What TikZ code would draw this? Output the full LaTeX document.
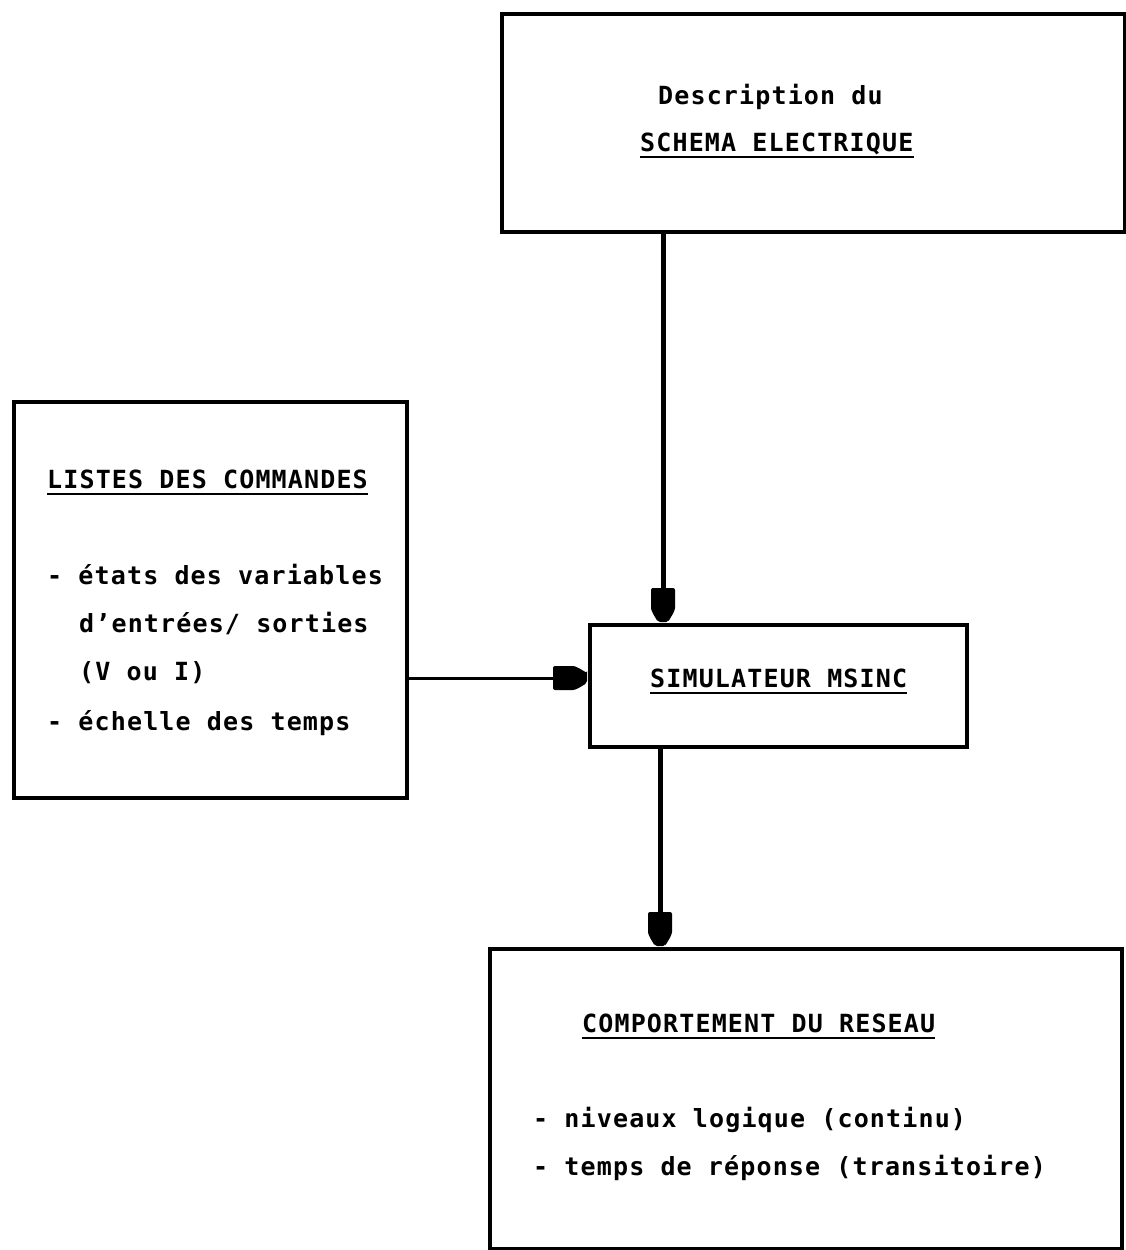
\documentclass[tikz,border=0pt]{standalone}
\usepackage{fontspec}
\newfontfamily\dotfont[LetterSpace=4.6]{DejaVu Sans Mono Bold}
\usetikzlibrary{arrows.meta}
\begin{document}
\begin{tikzpicture}[x=1pt,y=-1pt,
  boxst/.style={draw,line width=3.5pt},
  txt/.style={anchor=base west,inner sep=0pt,font=\dotfont\fontsize{25}{30}\selectfont},
  uln/.style={line width=2.5pt},
  arr/.style={line width=5pt},
  bullet/.pic={\fill[rounded corners=2pt] (0,-5) -- (0,5) .. controls (-5,8) and (-11,12) .. (-16,12) -- (-34,12) -- (-34,-12) -- (-16,-12) .. controls (-11,-12) and (-5,-8) .. (0,-5) -- cycle;}]
\useasboundingbox (0,0) rectangle (1125,1250);
% boxes
\node[boxst,minimum width=623pt,minimum height=218pt,anchor=north west,inner sep=0pt] (top) at (500,12) {};
\node[boxst,minimum width=393pt,minimum height=396pt,anchor=north west,inner sep=0pt] (left) at (12,400) {};
\node[boxst,minimum width=377pt,minimum height=122pt,anchor=north west,inner sep=0pt] (sim) at (588,623) {};
\node[boxst,minimum width=632pt,minimum height=300pt,anchor=north west,inner sep=0pt] (bot) at (488,947) {};
% texts top
\node[txt] (t1) at (658,104) {Description du};
\node[txt] (t2) at (640,151) {SCHEMA ELECTRIQUE};
\draw[uln] ([yshift=-6pt]t2.base west) -- ([yshift=-6pt]t2.base east);
% texts left
\node[txt] (l1) at (47,488) {LISTES DES COMMANDES};
\draw[uln] ([yshift=-6pt]l1.base west) -- ([yshift=-6pt]l1.base east);
\node[txt] (l2) at (47,584) {- états des variables};
\node[txt] (l3) at (79,632) {d’entrées/ sorties};
\node[txt] (l4) at (79,680) {(V ou I)};
\node[txt] (l5) at (47,730) {- échelle des temps};
% sim
\node[txt] (s1) at (650,687) {SIMULATEUR MSINC};
\draw[uln] ([yshift=-6pt]s1.base west) -- ([yshift=-6pt]s1.base east);
% bottom
\node[txt] (b1) at (582,1032) {COMPORTEMENT DU RESEAU};
\draw[uln] ([yshift=-6pt]b1.base west) -- ([yshift=-6pt]b1.base east);
\node[txt] (b2) at (533,1127) {- niveaux logique (continu)};
\node[txt] (b3) at (533,1175) {- temps de réponse (transitoire)};
% connectors
\coordinate (a1) at (663,230);
\coordinate (a2) at (663,622);
\draw[arr] (a1) -- ([yshift=20pt]a2);
\pic[rotate=-90] at (a2) {bullet};
\coordinate (c1) at (405,678);
\coordinate (c2) at (587,678);
\draw[arr,line width=3pt] (c1) -- ([xshift=-20pt]c2);
\pic at (c2) {bullet};
\coordinate (d1) at (660,745);
\coordinate (d2) at (660,946);
\draw[arr] (d1) -- ([yshift=20pt]d2);
\pic[rotate=-90] at (d2) {bullet};
\end{tikzpicture}
\end{document}
